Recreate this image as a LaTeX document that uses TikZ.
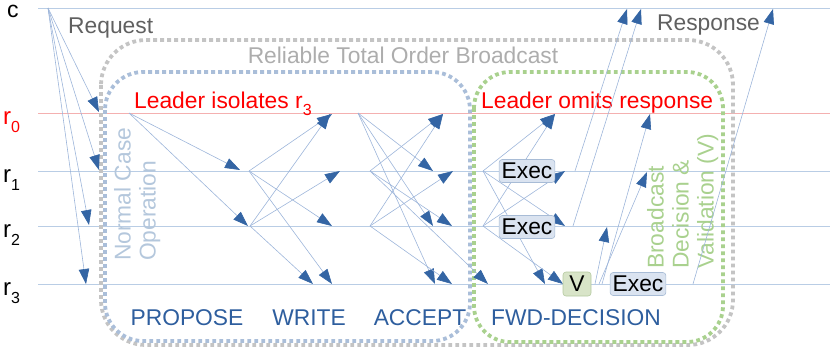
\documentclass[tikz,border=0pt]{standalone}
\usepackage{fontspec}
\setmainfont{Liberation Sans}
\usetikzlibrary{arrows.meta}
\definecolor{tlblue}{HTML}{B9CDE5}
\definecolor{tlred}{HTML}{F4B0B0}
\definecolor{msgline}{HTML}{9DB5DA}
\definecolor{msghead}{HTML}{3465A4}
\definecolor{phaseblue}{HTML}{2E5E9E}
\definecolor{dotgray}{HTML}{C4C4C4}
\definecolor{dotblue}{HTML}{AABED9}
\definecolor{dotgreen}{HTML}{A9D18E}
\definecolor{txtgray}{HTML}{606060}
\definecolor{rtobgray}{HTML}{ADADAD}
\definecolor{ncoblue}{HTML}{B4C7DC}
\definecolor{bdvgreen}{HTML}{A9D18E}
\definecolor{execfill}{HTML}{DAE3F0}
\definecolor{execdraw}{HTML}{A8BCD6}
\definecolor{vfill}{HTML}{D8E4C8}
\definecolor{vdraw}{HTML}{B5C9A0}
\newcommand{\mysub}[1]{\raisebox{-8pt}{\fontsize{16}{16}\selectfont #1}}
\tikzset{
  timeline/.style={draw=tlblue, line width=1pt},
  msg/.style={draw=msgline, line width=0.6pt, -{Triangle[length=15pt,width=10.5pt,color=msghead]}},
  bigtxt/.style={font=\fontsize{22.8}{25}\selectfont, inner sep=0pt},
  rlabel/.style={font=\fontsize{24}{26}\selectfont, inner sep=0pt, anchor=base west},
  phase/.style={bigtxt, text=phaseblue, anchor=base},
  execbox/.style={bigtxt, draw=execdraw, fill=execfill, rounded corners=3pt, line width=0.6pt, minimum height=23pt, inner xsep=2.5pt},
  vbox/.style={bigtxt, draw=vdraw, fill=vfill, rounded corners=3pt, line width=0.6pt, minimum height=24pt, minimum width=28pt},
  dotframe/.style={line width=3.8pt, dash pattern=on 3.8pt off 3.2pt}
}
\begin{document}
\begin{tikzpicture}[x=1pt,y=-1pt]
\useasboundingbox (0,0) rectangle (830,354);
% timelines
\coordinate (cL) at (38,8);   \coordinate (cR) at (830,8);
\coordinate (r0L) at (38,113); \coordinate (r0R) at (830,113);
\coordinate (r1L) at (38,171); \coordinate (r1R) at (830,171);
\coordinate (r2L) at (38,226); \coordinate (r2R) at (830,226);
\coordinate (r3L) at (38,284); \coordinate (r3R) at (830,284);
\draw[timeline] (cL) -- (cR);
\draw[timeline, draw=tlred] (r0L) -- (r0R);
\draw[timeline] (r1L) -- (r1R);
\draw[timeline] (r2L) -- (r2R);
\draw[timeline] (r3L) -- (r3R);
% labels of processes
\node[rlabel, font=\fontsize{23}{25}\selectfont] (lc) at (7,17) {c};
\node[rlabel, text=red] (lr0) at (3,124) {r\mysub{0}};
\node[rlabel] (lr1) at (3,182) {r\mysub{1}};
\node[rlabel] (lr2) at (3,237) {r\mysub{2}};
\node[rlabel] (lr3) at (3,295) {r\mysub{3}};
% frames
\draw[dotframe, draw=dotgray, rounded corners=45pt] (101,40) rectangle (733,345);
\draw[dotframe, draw=dotblue, rounded corners=38pt] (105,72) rectangle (470,341);
\draw[dotframe, draw=dotgreen, rounded corners=36pt] (474,72) rectangle (723,342);
% texts
\node[bigtxt, text=txtgray, anchor=base west] (treq) at (68,33) {Request};
\node[bigtxt, text=txtgray, anchor=base west] (tresp) at (657,30) {Response};
\node[bigtxt, text=rtobgray, anchor=base] (trtob) at (403,63) {Reliable Total Order Broadcast};
\node[bigtxt, text=red, anchor=base west] (tiso) at (134,108) {Leader isolates r\raisebox{-7pt}{\fontsize{16}{16}\selectfont 3}};
\node[bigtxt, text=red, anchor=base west] (tomit) at (481,108) {Leader omits response};
\node[bigtxt, text=ncoblue, rotate=90, anchor=north west, align=left] (tnco) at (114,261) {Normal Case\\Operation};
\node[bigtxt, text=bdvgreen, rotate=90, anchor=north west, align=left] (tbdv) at (647,269) {Broadcast\\Decision \&\\Validation (V)};
\node[phase] (tpro) at (187,325) {PROPOSE};
\node[phase] (twri) at (309,325) {WRITE};
\node[phase] (tacc) at (420,325) {ACCEPT};
\node[phase] (tfwd) at (576,325) {FWD-DECISION};
% request
\coordinate (req) at (48,8);
\coordinate (req0) at (99,112);
\coordinate (req1) at (99,170);
\coordinate (req2) at (89,225);
\coordinate (req3) at (86,284);
\draw[msg] (req) -- (req0);
\draw[msg] (req) -- (req1);
\draw[msg] (req) -- (req2);
\draw[msg] (req) -- (req3);
% propose
\coordinate (p0) at (129,113);
\coordinate (p0to1) at (240,170);
\coordinate (p0to2) at (248,226);
\draw[msg] (p0) -- (p0to1);
\draw[msg] (p0) -- (p0to2);
% write
\coordinate (w1) at (249,171);
\coordinate (w2) at (250,226);
\coordinate (w1to0) at (332,114);
\coordinate (w1to2) at (332,226);
\coordinate (w1to3) at (332,284);
\coordinate (w2to0) at (330,114);
\coordinate (w2to1) at (340,171);
\coordinate (w2to3) at (313,284);
\draw[msg] (w1) -- (w1to0);
\draw[msg] (w1) -- (w1to2);
\draw[msg] (w1) -- (w1to3);
\draw[msg] (w2) -- (w2to0);
\draw[msg] (w2) -- (w2to1);
\draw[msg] (w2) -- (w2to3);
% accept
\coordinate (a0) at (358,113);
\coordinate (a1) at (370,171);
\coordinate (a2) at (370,226);
\coordinate (a0to1) at (433,171);
\coordinate (a0to2) at (433,226);
\coordinate (a0to3) at (435,284);
\coordinate (a1to0) at (443,114);
\coordinate (a1to2) at (452,226);
\coordinate (a1to3) at (488,284);
\coordinate (a2to0) at (443,114);
\coordinate (a2to1) at (453,171);
\coordinate (a2to3) at (452,284);
\draw[msg] (a0) -- (a0to1);
\draw[msg] (a0) -- (a0to2);
\draw[msg] (a0) -- (a0to3);
\draw[msg] (a1) -- (a1to0);
\draw[msg] (a1) -- (a1to2);
\draw[msg] (a1) -- (a1to3);
\draw[msg] (a2) -- (a2to0);
\draw[msg] (a2) -- (a2to1);
\draw[msg] (a2) -- (a2to3);
% fwd-decision
\coordinate (f1) at (483,171);
\coordinate (f2) at (483,226);
\coordinate (f1to0) at (555,114);
\coordinate (f1to2) at (565,226);
\coordinate (f1to3) at (545,284);
\coordinate (f2to0) at (555,114);
\coordinate (f2to1) at (565,171);
\coordinate (f2to3) at (563,284);
\draw[msg] (f1) -- (f1to0);
\draw[msg] (f1) -- (f1to2);
\draw[msg] (f1) -- (f1to3);
\draw[msg] (f2) -- (f2to0);
\draw[msg] (f2) -- (f2to1);
\draw[msg] (f2) -- (f2to3);
% responses
\coordinate (resp1) at (575,171); \coordinate (resp1c) at (627,9);
\coordinate (resp2) at (573,226); \coordinate (resp2c) at (641,9);
\coordinate (resp3) at (693,284); \coordinate (resp3c) at (773,9);
\draw[msg] (resp1) -- (resp1c);
\draw[msg] (resp2) -- (resp2c);
\draw[msg] (resp3) -- (resp3c);
% V broadcast
\coordinate (vs2) at (595,284); \coordinate (vto2) at (607,227);
\coordinate (vs1) at (599,284); \coordinate (vto1) at (647,172);
\coordinate (vs0) at (602,284); \coordinate (vto0) at (650,114);
\draw[msg] (vs2) -- (vto2);
\draw[msg] (vs1) -- (vto1);
\draw[msg] (vs0) -- (vto0);
% boxes
\node[execbox] (ex1) at (527,171) {Exec};
\node[execbox] (ex2) at (527,227) {Exec};
\node[execbox] (ex3) at (638,284) {Exec};
\node[vbox] (vv) at (577,284) {V};
\end{tikzpicture}
\end{document}
